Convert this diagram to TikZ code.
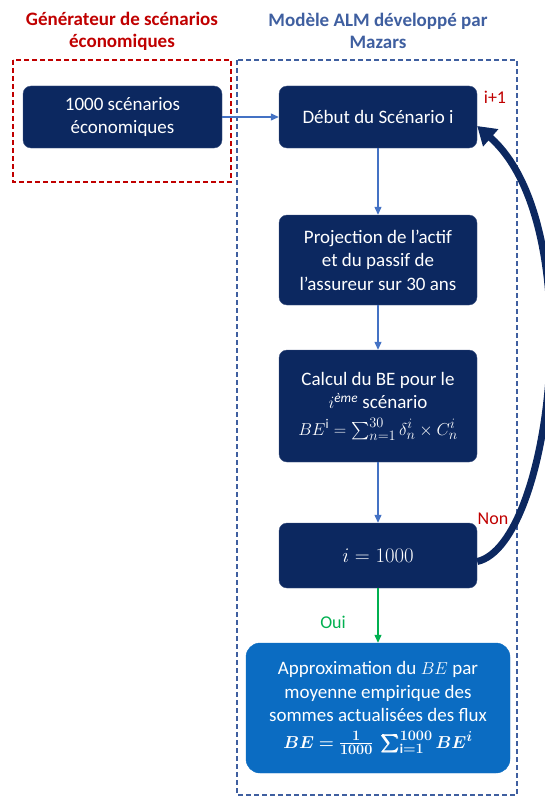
\documentclass[tikz,border=0pt]{standalone}
\usepackage{amsmath}
\usepackage{bm}
\usepackage{fontspec}
\setmainfont{Carlito}
\usetikzlibrary{arrows.meta}

\definecolor{navy}{RGB}{12,40,96}
\definecolor{lienbleu}{RGB}{68,114,196}
\definecolor{titrerouge}{RGB}{192,0,0}
\definecolor{titrebleu}{RGB}{63,95,160}
\definecolor{bleuapprox}{RGB}{11,108,194}
\definecolor{vertoui}{RGB}{0,176,80}

\begin{document}
\begin{tikzpicture}[x=1pt, y=-1pt,
    etape/.style={draw=navy!80, fill=navy, rounded corners=8pt, text=white,
        align=center, inner sep=0pt, font=\fontsize{19}{23.5}\selectfont},
    lien/.style={draw=lienbleu, line width=1.2pt, -{Triangle[length=8pt,width=7pt]}},
    cadre/.style={dashed, line width=1.2pt, dash pattern=on 5pt off 3pt},
    titre/.style={align=center, font=\fontsize{19}{22}\selectfont\bfseries}]
    \useasboundingbox (0,0) rectangle (545,797);

    % Dashed frames
    \draw[cadre, titrerouge] (13,60) rectangle (231,182);
    \draw[cadre, titrebleu] (237,60) rectangle (517,795);

    % Titles
    \node[titre, text=titrerouge] (titregen) at (122,31) {G\'en\'erateur de sc\'enarios\\\'economiques};
    \node[titre, text=titrebleu] (titrealm) at (378,31) {Mod\`ele ALM d\'evelopp\'e par\\Mazars};

    % Steps
    \node[etape, minimum width=199pt, minimum height=62pt] (scen) at (122.5,117) {1000 sc\'enarios\\\'economiques};
    \node[etape, minimum width=198pt, minimum height=62pt] (debut) at (378,117) {D\'ebut du Sc\'enario i};
    \node[etape, minimum width=198pt, minimum height=90pt] (proj) at (378,260) {Projection de l'actif\\et du passif de\\l'assureur sur 30 ans};
    \node[etape, minimum width=198pt, minimum height=112pt] (calc) at (378,406)
        {Calcul du BE pour le\\$i^{\textit{\`eme}}$ sc\'enario\\[3pt]$BE^{\mathrm{i}}=\sum_{n=1}^{30}\delta_n^i\times C_n^i$};
    \node[etape, minimum width=198pt, minimum height=65pt, font=\fontsize{22}{26}\selectfont] (test) at (378,555.5) {$i=1000$};
    \node[etape, draw=bleuapprox, fill=bleuapprox, minimum width=264pt, minimum height=130pt,
        rounded corners=14pt] (approx) at (378,708)
        {Approximation du $BE$ par\\moyenne empirique des\\sommes actualis\'ees des flux\\[3pt]
         $\bm{BE=\frac{1}{1000}\ \sum_{\mathrm{i}=1}^{1000}BE^{i}}$};

    % Links
    \draw[lien] (scen) -- (debut);
    \draw[lien] (debut) -- (proj);
    \draw[lien] (proj) -- (calc);
    \draw[lien] (calc) -- (test);
    \draw[lien, draw=vertoui] (test) -- (approx);

    % Loop back to the next scenario
    \draw[navy, line width=7pt, -{Triangle[length=18pt,width=22pt]}]
        (test.east) ++(0,6) .. controls (552,545) and (590,225) .. (debut.east |- 0,126);

    % Labels
    \node[text=titrerouge, font=\fontsize{18}{20}\selectfont] (iplus) at (495,97) {i+1};
    \node[text=titrerouge, font=\fontsize{18}{20}\selectfont] (non) at (493,519) {Non};
    \node[text=vertoui, font=\fontsize{18}{20}\selectfont] (oui) at (333,622) {Oui};
\end{tikzpicture}
\end{document}
